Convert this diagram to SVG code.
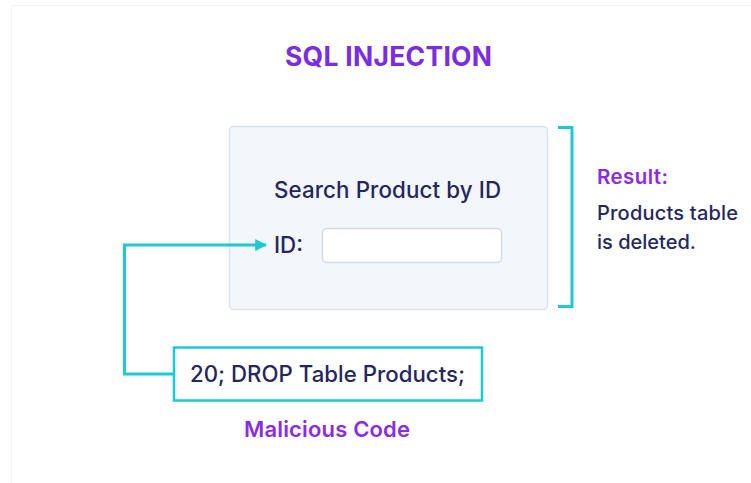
<svg xmlns="http://www.w3.org/2000/svg" width="751" height="483" viewBox="0 0 751 483">
  <style>
    .t { font-family: Inter, "Noto Sans", "Liberation Sans", sans-serif; }
    .title { font-size: 26.5px; font-weight: 700; fill: #7a2ee0; }
    .purple { font-weight: 600; fill: #8a2be8; }
    .dark { font-weight: 500; fill: #25265e; }
    .cyan { fill: none; stroke: #1ccad6; stroke-width: 3; }
  </style>
  <defs>
    <marker id="arrow" viewBox="0 0 10 10" refX="9" refY="5" markerWidth="4" markerHeight="4" orient="auto" markerUnits="strokeWidth">
      <path d="M0,0 L10,5 L0,10 z" fill="#1ccad6"/>
    </marker>
  </defs>
  <rect width="751" height="483" fill="#ffffff"/>
  <path d="M11.5,483 V5.5 H751" fill="none" stroke="#f3f3f5" stroke-width="1"/>

  <text class="t title" x="388.5" y="66" text-anchor="middle" textLength="207">SQL INJECTION</text>

  <g id="search-form">
    <rect x="229.5" y="126.5" width="318" height="183" rx="4" fill="#f3f6fb" stroke="#dde1ea" stroke-width="1.5"/>
    <text class="t dark" x="274" y="198" font-size="22.3" textLength="227">Search Product by ID</text>
    <text class="t dark" x="274" y="253" font-size="22.3">ID:</text>
    <rect x="322.5" y="228.5" width="179" height="34" rx="4" fill="#ffffff" stroke="#d6d9e0" stroke-width="1.5"/>
  </g>

  <g id="result">
    <path class="cyan" d="M558,127.5 H572 V306.5 H558"/>
    <text class="t purple" x="597" y="184" font-size="20.5" textLength="71">Result:</text>
    <text class="t dark" x="597" y="220" font-size="20" textLength="141">Products table</text>
    <text class="t dark" x="597" y="249" font-size="20">is deleted.</text>
  </g>

  <g id="malicious-code">
    <rect x="174" y="347.5" width="308" height="53" fill="#ffffff" stroke="#1ccad6" stroke-width="2.5"/>
    <text class="t dark" x="190" y="382" font-size="22.2" textLength="275">20; DROP Table Products;</text>
    <text class="t purple" x="244" y="437" font-size="22" textLength="166">Malicious Code</text>
  </g>

  <g id="connectors">
    <path class="cyan" d="M173,374 H124.5 V245 H266" marker-end="url(#arrow)"/>
  </g>
</svg>
